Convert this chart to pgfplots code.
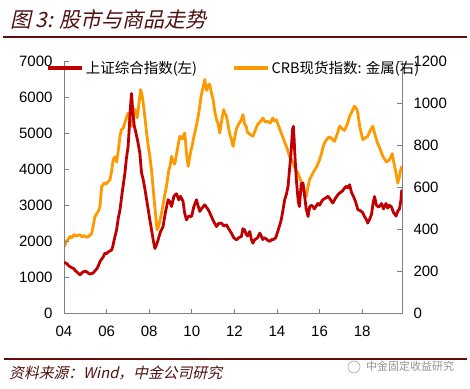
\documentclass[border=0pt]{standalone}
\usepackage{pgfplots}
\pgfplotsset{compat=1.18}
\usepackage{fontspec}
\setmainfont{Liberation Sans}
\newfontfamily\cjk{Noto Sans CJK SC}
\newfontfamily\cjkit[FakeSlant=0.22]{Noto Sans CJK SC}
\definecolor{redline}{RGB}{192,0,0}
\definecolor{orangeline}{RGB}{255,153,0}
\definecolor{titlecol}{RGB}{80,16,16}
\definecolor{rulecol}{RGB}{100,12,12}
\definecolor{axgray}{RGB}{128,128,128}
\begin{document}
\begin{tikzpicture}
\useasboundingbox (0pt,0pt) rectangle (470pt,388pt);
% title
\node[anchor=west, inner sep=0pt, text=titlecol, font=\cjkit\fontsize{21}{21}\selectfont] at (10pt,369pt) {图 3: 股市与商品走势};
\draw[rulecol, line width=2pt] (3pt,351pt) -- (467pt,351pt);
% source
\draw[rulecol, line width=2pt] (4pt,29pt) -- (467pt,29pt);
\node[anchor=west, inner sep=0pt, text=titlecol, font=\cjkit\fontsize{14.8}{14.8}\selectfont] at (9pt,15pt) {资料来源：Wind，中金公司研究};
\draw[gray!70, line width=0.6pt] (354pt,21pt) circle (6pt);
\node[anchor=west, inner sep=0pt, text=gray!85, font=\cjk\fontsize{11}{11}\selectfont] at (366pt,22pt) {中金固定收益研究};

% right axis (orange)
\begin{axis}[
  at={(64pt,74.5pt)}, anchor=south west, scale only axis,
  width=338pt, height=252.5pt,
  xmin=2004, xmax=2019.87, ymin=0, ymax=1200,
  axis y line*=right, axis x line=none,
  ytick={0,200,400,600,800,1000,1200},
  axis line style={axgray, line width=0.8pt},
  tick style={axgray, line width=0.8pt},
  tick align=inside, major tick length=5pt,
  /pgf/number format/assume math mode=true,
  /pgf/number format/1000 sep={},
  yticklabel style={font=\fontsize{15}{15}\selectfont, xshift=8pt},
]
\addplot[orangeline, line width=2.8pt, line join=round] table {
2004.00 320
2004.05 326
2004.12 345
2004.19 350
2004.28 366
2004.38 360
2004.47 375
2004.55 368
2004.61 370
2004.75 374
2004.85 365
2004.94 370
2005.05 362
2005.14 366
2005.22 372
2005.30 380
2005.38 420
2005.45 461
2005.52 470
2005.57 480
2005.63 490
2005.69 509
2005.77 604
2005.83 610
2005.88 620
2005.97 615
2006.06 625
2006.16 636
2006.24 680
2006.31 731
2006.39 745
2006.47 720
2006.53 760
2006.58 800
2006.64 850
2006.70 874
2006.78 880
2006.86 906
2006.93 930
2007.01 953
2007.09 920
2007.17 890
2007.25 940
2007.33 970
2007.39 950
2007.44 930
2007.52 1000
2007.60 1064
2007.66 1040
2007.72 1000
2007.80 930
2007.88 858
2007.95 800
2008.03 747
2008.11 680
2008.19 588
2008.29 480
2008.37 398
2008.43 410
2008.48 430
2008.58 477
2008.69 540
2008.81 604
2008.92 680
2008.98 700
2009.05 747
2009.12 720
2009.20 710
2009.27 750
2009.34 790
2009.44 842
2009.50 835
2009.55 830
2009.61 845
2009.67 858
2009.72 800
2009.75 760
2009.83 699
2009.93 760
2010.00 790
2010.06 820
2010.12 850
2010.19 880
2010.30 937
2010.38 990
2010.45 1040
2010.52 1070
2010.61 1112
2010.66 1080
2010.70 1060
2010.77 1085
2010.84 1090
2010.92 1050
2011.00 1017
2011.08 960
2011.16 921
2011.24 900
2011.31 858
2011.38 900
2011.44 940
2011.50 969
2011.56 950
2011.62 940
2011.68 910
2011.73 880
2011.79 850
2011.85 830
2011.94 794
2012.02 840
2012.10 880
2012.20 900
2012.33 921
2012.40 945
2012.48 900
2012.55 890
2012.62 860
2012.75 850
2012.87 842
2012.98 870
2013.09 898
2013.20 910
2013.34 929
2013.45 910
2013.56 913
2013.68 905
2013.80 929
2013.88 915
2013.97 921
2014.08 890
2014.20 858
2014.32 825
2014.44 794
2014.52 770
2014.59 747
2014.66 735
2014.73 720
2014.85 690
2014.98 668
2015.10 635
2015.22 604
2015.30 580
2015.38 556
2015.45 600
2015.53 636
2015.65 660
2015.77 683
2015.88 700
2016.00 731
2016.09 760
2016.16 790
2016.23 810
2016.35 830
2016.47 840
2016.58 830
2016.70 818
2016.82 850
2016.94 890
2017.05 880
2017.17 870
2017.30 900
2017.41 937
2017.52 960
2017.64 985
2017.72 975
2017.78 960
2017.90 880
2018.03 826
2018.14 835
2018.25 840
2018.38 870
2018.50 890
2018.60 850
2018.72 810
2018.85 780
2018.97 747
2019.05 735
2019.13 720
2019.20 725
2019.28 731
2019.35 745
2019.41 760
2019.50 710
2019.59 668
2019.67 620
2019.75 650
2019.80 680
2019.86 699
};
\end{axis}

% left axis (red)
\begin{axis}[
  at={(64pt,74.5pt)}, anchor=south west, scale only axis,
  width=338pt, height=252.5pt,
  xmin=2004, xmax=2019.87, ymin=0, ymax=7000,
  axis y line*=left, axis x line*=bottom,
  ytick={0,1000,2000,3000,4000,5000,6000,7000},
  xtick={2004,2006,2008,2010,2012,2014,2016,2018},
  xticklabels={04,06,08,10,12,14,16,18},
  axis line style={axgray, line width=0.8pt},
  tick style={axgray, line width=0.8pt},
  tick align=inside, major tick length=5pt,
  /pgf/number format/assume math mode=true,
  /pgf/number format/1000 sep={},
  yticklabel style={font=\fontsize{15}{15}\selectfont, xshift=-8pt},
  xticklabel style={font=\fontsize{15}{15}\selectfont, yshift=-9pt},
  legend style={at={(-0.053,1.008)}, anchor=north west, draw=none, fill=none,
    font=\cjk\fontsize{14.5}{14.5}\selectfont, inner sep=0pt,
    /tikz/every even column/.append style={column sep=33pt}},
  legend columns=2,
  legend image code/.code={\draw[#1, line width=3.5pt] (0pt,0pt) -- (34pt,0pt);},
]
\addplot[redline, line width=2.8pt, line join=round] table {
2004.00 1420
2004.07 1400
2004.14 1380
2004.21 1330
2004.28 1300
2004.37 1270
2004.47 1240
2004.54 1180
2004.61 1150
2004.68 1110
2004.75 1070
2004.82 1110
2004.89 1150
2004.97 1170
2005.06 1160
2005.14 1120
2005.22 1090
2005.30 1110
2005.37 1120
2005.45 1180
2005.55 1250
2005.62 1330
2005.69 1440
2005.76 1500
2005.83 1560
2005.92 1670
2006.00 1660
2006.06 1700
2006.15 1730
2006.24 1764
2006.30 1880
2006.34 2000
2006.40 2150
2006.47 2320
2006.55 2650
2006.63 2875
2006.72 3300
2006.79 3600
2006.86 3894
2006.93 4300
2007.01 4633
2007.05 5000
2007.09 5400
2007.13 5800
2007.17 6100
2007.20 5850
2007.23 5600
2007.30 5200
2007.38 5006
2007.47 4750
2007.56 4450
2007.64 3900
2007.72 3708
2007.80 3450
2007.88 3153
2007.95 2900
2008.03 2597
2008.13 2250
2008.20 2000
2008.27 1800
2008.34 1900
2008.42 2042
2008.52 2250
2008.65 2411
2008.76 2800
2008.89 3153
2008.97 3100
2009.05 2967
2009.16 3250
2009.28 3320
2009.39 3150
2009.47 3250
2009.59 3106
2009.66 2800
2009.75 2597
2009.86 2700
2009.99 2689
2010.09 2950
2010.22 3153
2010.29 3000
2010.38 2828
2010.45 2900
2010.52 2950
2010.61 3014
2010.68 2950
2010.75 2900
2010.84 2800
2010.92 2689
2011.03 2550
2011.16 2411
2011.27 2500
2011.39 2506
2011.50 2430
2011.63 2458
2011.73 2350
2011.86 2228
2011.97 2100
2012.10 2042
2012.20 2100
2012.33 2133
2012.40 2350
2012.48 2319
2012.55 2200
2012.62 2150
2012.72 2272
2012.80 2050
2012.87 1950
2012.95 2042
2013.09 2100
2013.19 2228
2013.26 2150
2013.33 2050
2013.40 2100
2013.47 2080
2013.56 2030
2013.66 2000
2013.74 2050
2013.81 2042
2013.94 2100
2014.05 2300
2014.13 2450
2014.20 2597
2014.29 2900
2014.36 3153
2014.44 3300
2014.52 3522
2014.59 4000
2014.66 4450
2014.73 5100
2014.77 5189
2014.80 4900
2014.84 4400
2014.91 3700
2015.00 3100
2015.05 2967
2015.10 3300
2015.14 3600
2015.22 3617
2015.30 3250
2015.37 2900
2015.46 2689
2015.53 2950
2015.61 3000
2015.69 2967
2015.75 2900
2015.81 2950
2015.92 3050
2016.00 3000
2016.07 3080
2016.15 3153
2016.28 3200
2016.40 3250
2016.46 3200
2016.52 3150
2016.62 3061
2016.75 3200
2016.86 3292
2016.94 3339
2017.08 3400
2017.17 3478
2017.25 3522
2017.31 3480
2017.41 3569
2017.46 3450
2017.50 3350
2017.59 3250
2017.69 3100
2017.80 2875
2017.92 2850
2018.02 2800
2018.11 2689
2018.20 2600
2018.26 2506
2018.34 2600
2018.44 2750
2018.51 3050
2018.58 3244
2018.67 3000
2018.77 2950
2018.85 3000
2018.91 3050
2019.00 2900
2019.06 2980
2019.12 3050
2019.20 2922
2019.28 3000
2019.38 2950
2019.47 2800
2019.54 2750
2019.59 2700
2019.68 2850
2019.75 2900
2019.82 3150
2019.86 3431
};
\addlegendentry{上证综合指数(左)}
\addlegendimage{orangeline, line width=3.5pt}
\addlegendentry{CRB现货指数: 金属(右)}
\end{axis}
\end{tikzpicture}
\end{document}
